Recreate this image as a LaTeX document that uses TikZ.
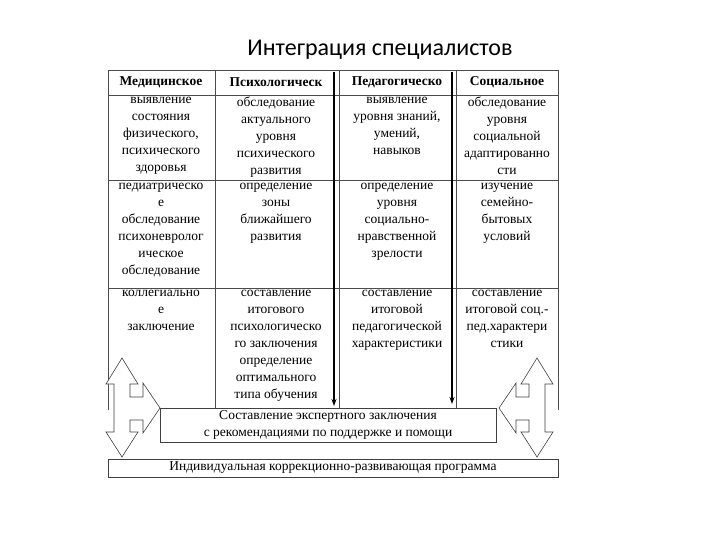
\documentclass[tikz,border=0pt]{standalone}
\usepackage{fontspec}
\setmainfont{Liberation Serif}
\newfontfamily\titlefont{Carlito}
\usetikzlibrary{arrows.meta}
\begin{document}
\begin{tikzpicture}[x=1pt,y=-1pt,
  cell/.style={align=center,font=\fontsize{13.5}{17}\selectfont,anchor=north,inner sep=0pt},
  head/.style={font=\bfseries\fontsize{13.5}{14}\selectfont,anchor=center,inner sep=0pt},
  grid/.style={draw=black!70,line width=0.6pt},
  bigarrow/.style={draw=black!75,fill=white,line width=0.6pt},
  flow/.style={line width=1.4pt,-{Stealth[length=7pt,width=5pt]}}]
\useasboundingbox (0,0) rectangle (720,540);
\node[font=\titlefont\fontsize{24}{26}\selectfont] (title) at (380,50) {Интеграция специалистов};
% grid
\draw[grid] (108,70) -- (558,70);
\foreach \y in {95,180,288} \draw[grid] (108,\y) -- (558,\y);
\foreach \x in {108,215,339,456,558} \draw[grid] (\x,70) -- (\x,410);
% headers
\node[head] (h1) at (161,82) {Медицинское};
\node[head] (h2) at (276,82) {Психологическ};
\node[head] (h3) at (397,82) {Педагогическо};
\node[head] (h4) at (507,82) {Социальное};
% row 1
\node[cell] (a1) at (161,97) {выявление\\состояния\\физического,\\психического\\здоровья};
\node[cell] (a2) at (276,97) {обследование\\актуального\\уровня\\психического\\развития};
\node[cell] (a3) at (397,97) {выявление\\уровня знаний,\\умений,\\навыков};
\node[cell] (a4) at (507,97) {обследование\\уровня\\социальной\\адаптированно\\сти};
% row 2
\node[cell] (b1) at (161,183) {педиатрическо\\е\\обследование\\психоневролог\\ическое\\обследование};
\node[cell] (b2) at (276,183) {определение\\зоны\\ближайшего\\развития};
\node[cell] (b3) at (397,183) {определение\\уровня\\социально-\\нравственной\\зрелости};
\node[cell] (b4) at (507,183) {изучение\\семейно-\\бытовых\\условий};
% row 3
\node[cell] (c1) at (161,290) {коллегиально\\е\\заключение};
\node[cell] (c2) at (276,290) {составление\\итогового\\психологическо\\го заключения\\определение\\оптимального\\типа обучения};
\node[cell] (c3) at (397,290) {составление\\итоговой\\педагогической\\характеристики};
\node[cell] (c4) at (507,290) {составление\\итоговой соц.-\\пед.характери\\стики};
% flow arrows
\coordinate (f1s) at (334,72); \coordinate (f1e) at (334,406);
\coordinate (f2s) at (452,72); \coordinate (f2e) at (452,404);
\draw[flow] (f1s) -- (f1e);
\draw[flow] (f2s) -- (f2e);
% expert box
\node[draw=black!75,fill=white,line width=0.6pt,minimum width=336pt,minimum height=34pt,inner sep=0pt,align=center,font=\fontsize{13.5}{17}\selectfont] (exp) at (328,425) {Составление экспертного заключения\\с рекомендациями по поддержке и помощи};
% program box
\node[draw=black!75,line width=0.6pt,minimum width=450pt,minimum height=18pt,inner sep=0pt,font=\fontsize{13.5}{14}\selectfont] (prog) at (333,468) {Индивидуальная коррекционно-развивающая программа};
% side arrows
\draw[bigarrow] (122,358) -- (138,384) -- (130,384) -- (130,397) -- (143,397) -- (143,383) -- (160,408) -- (143,433) -- (143,420) -- (130,420) -- (130,432) -- (138,432) -- (122,457) -- (106,432) -- (114,432) -- (114,384) -- (106,384) -- cycle;
\draw[bigarrow] (537,358) -- (521,384) -- (529,384) -- (529,397) -- (516,397) -- (516,383) -- (499,408) -- (516,433) -- (516,420) -- (529,420) -- (529,432) -- (521,432) -- (537,457) -- (553,432) -- (545,432) -- (545,384) -- (553,384) -- cycle;
\end{tikzpicture}
\end{document}
